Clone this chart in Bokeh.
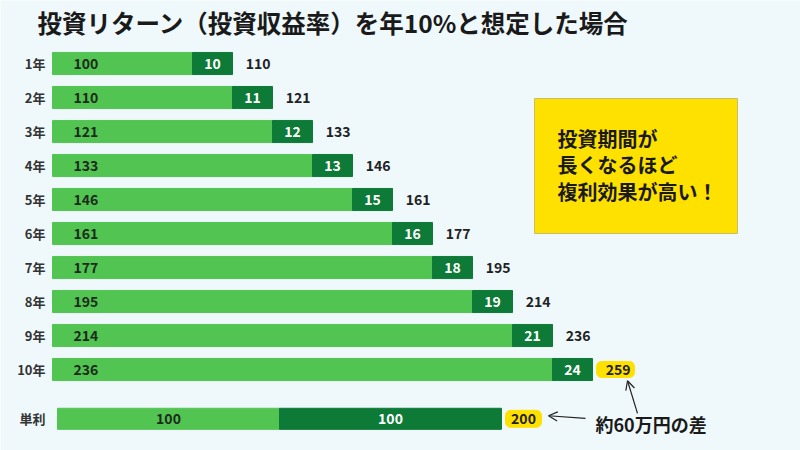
from bokeh.plotting import figure
from bokeh.models import Range1d, ColumnDataSource, Arrow, OpenHead
from bokeh.core.properties import value
from bokeh.embed import file_html
from bokeh.resources import INLINE

# ---- data ----
title_text = "投資リターン（投資収益率）を年10%と想定した場合"
year_labels = ["1年", "2年", "3年", "4年", "5年", "6年", "7年", "8年", "9年", "10年"]
principal = [100, 110, 121, 133, 146, 161, 177, 195, 214, 236]
gain = [10, 11, 12, 13, 15, 16, 18, 19, 21, 24]
total = [110, 121, 133, 146, 161, 177, 195, 214, 236, 259]
simple_label = "単利"
simple_principal = 100
simple_interest = 100
simple_total = 200
note_lines = ["投資期間が", "長くなるほど", "複利効果が高い！"]
diff_text = "約60万円の差"

# ---- style ----
FONT = value("Noto Sans CJK JP")
BG = "#eff9fc"
LIGHT = "#52c452"
DARK = "#0e7a37"
YELLOW = "#ffe100"
TXT = "#222222"

p = figure(width=800, height=450, output_backend="svg", toolbar_location=None,
           x_range=Range1d(-1.3, 18.7), y_range=Range1d(12.382, -0.853),
           x_axis_location=None, y_axis_location=None, min_border=0)
p.background_fill_color = BG
p.border_fill_color = BG
p.outline_line_color = None
p.xgrid.grid_line_color = None
p.ygrid.grid_line_color = None

# schematic layout: each year adds one step to the bar length
n = len(year_labels)
rows = [i + 1 for i in range(n)]
light_end = [r + 2.5 for r in rows]
dark_end = [e + 1.0 for e in light_end]
H = 0.65

src = ColumnDataSource(dict(
    y=rows, lab=year_labels, le=light_end, de=dark_end,
    zero=[0] * n, p=[str(v) for v in principal], g=[str(v) for v in gain],
    t=[str(v) for v in total],
    gx=[(a + b) / 2 for a, b in zip(light_end, dark_end)],
    px=[0.525] * n, tx=[d + 0.33 for d in dark_end], yx=[-0.175] * n,
))

p.hbar(y="y", left="zero", right="le", height=H, source=src, color=LIGHT)
p.hbar(y="y", left="le", right="de", height=H, source=src, color=DARK)

# highlight box for the last total
p.quad(left=[dark_end[-1] + 0.1], right=[dark_end[-1] + 1.05],
       bottom=[rows[-1] + 0.235], top=[rows[-1] - 0.235],
       color=YELLOW, border_radius=5)

p.text(x="yx", y="y", text="lab", source=src, text_align="right", text_baseline="middle",
       text_font=FONT, text_font_size="13px", text_font_style="bold", text_color="#333333")
p.text(x="px", y="y", text="p", source=src, text_align="left", text_baseline="middle",
       text_font=FONT, text_font_size="14px", text_font_style="bold", text_color="#1d2b1d")
p.text(x="gx", y="y", text="g", source=src, text_align="center", text_baseline="middle",
       text_font=FONT, text_font_size="14px", text_font_style="bold", text_color="white")
p.text(x="tx", y="y", text="t", source=src, text_align="left", text_baseline="middle",
       text_font=FONT, text_font_size="14px", text_font_style="bold", text_color=TXT)

# simple interest bar
sy = 11.45
k = 0.0555
s0 = 0.125
s1 = s0 + simple_principal * k
s2 = s1 + simple_interest * k
p.hbar(y=[sy], left=[s0], right=[s1], height=0.62, color=LIGHT)
p.hbar(y=[sy], left=[s1], right=[s2], height=0.62, color=DARK)
p.quad(left=[s2 + 0.1], right=[s2 + 1.0], bottom=[sy + 0.25], top=[sy - 0.25],
       color=YELLOW, border_radius=5)
p.text(x=[-0.175], y=[sy], text=[simple_label], text_align="right", text_baseline="middle",
       text_font=FONT, text_font_size="13px", text_font_style="bold", text_color="#333333")
p.text(x=[(s0 + s1) / 2], y=[sy], text=[str(simple_principal)], text_align="center",
       text_baseline="middle", text_font=FONT, text_font_size="14px",
       text_font_style="bold", text_color="#1d2b1d")
p.text(x=[(s1 + s2) / 2], y=[sy], text=[str(simple_interest)], text_align="center",
       text_baseline="middle", text_font=FONT, text_font_size="14px",
       text_font_style="bold", text_color="white")
p.text(x=[s2 + 0.55], y=[sy], text=[str(simple_total)], text_align="center",
       text_baseline="middle", text_font=FONT, text_font_size="14px",
       text_font_style="bold", text_color=TXT)

# title
p.text(x=[-0.375], y=[-0.22], text=[title_text], text_align="left", text_baseline="middle",
       text_font=FONT, text_font_size="24.5px", text_font_style="bold", text_color="#1a1a1a")

# note box
p.quad(left=[12.05], right=[17.125], top=[2.03], bottom=[6.0],
       fill_color=YELLOW, line_color="#c9bd6a", line_width=1)
p.text(x=[12.625] * 3, y=[3.2, 3.97, 4.76], text=note_lines, text_align="left",
       text_baseline="middle", text_font=FONT, text_font_size="20px",
       text_font_style="bold", text_color="#1a1a1a")

# difference note + arrows
p.text(x=[13.575], y=[11.59], text=[diff_text], text_align="left", text_baseline="middle",
       text_font=FONT, text_font_size="18px", text_font_style="bold", text_color="#1a1a1a")
p.add_layout(Arrow(end=OpenHead(size=9, line_width=1.2, line_color="#222222"),
                   x_start=14.625, y_start=11.29, x_end=14.375, y_end=10.33,
                   line_width=1.2, line_color="#222222"))
p.add_layout(Arrow(end=OpenHead(size=9, line_width=1.2, line_color="#222222"),
                   x_start=13.325, y_start=11.44, x_end=12.4, y_end=11.36,
                   line_width=1.2, line_color="#222222"))

open("out.html", "w").write(file_html(p, INLINE))
